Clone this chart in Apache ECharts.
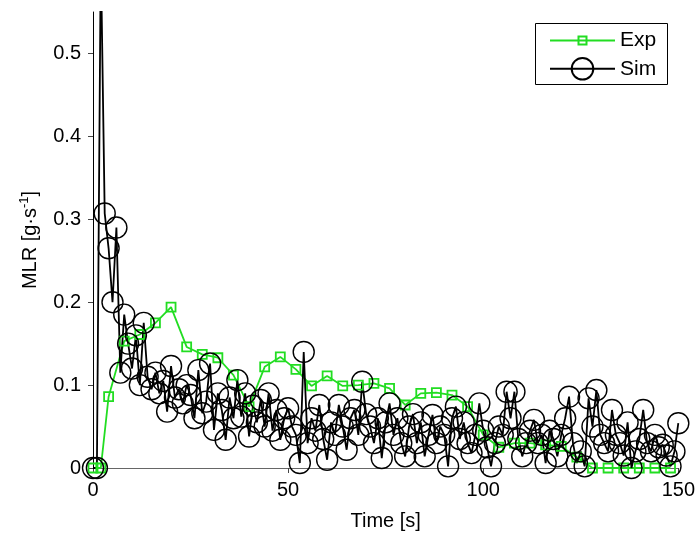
<!DOCTYPE html>
<html>
<head>
<meta charset="utf-8">
<script src="https://cdn.jsdelivr.net/npm/echarts@6/dist/echarts.min.js"></script>
<style>
html,body{margin:0;padding:0;background:#fff;}
#chart{width:698px;height:536px;}
</style>
</head>
<body>
<div id="chart"></div>
<script>
// ---- data ----
var expTime = [0, 2, 4, 8, 12, 16, 20, 24, 28, 32, 36, 40, 44, 48, 52, 56, 60, 64, 68, 72, 76, 80, 84, 88, 92, 96, 100, 104, 108, 112, 116, 120, 124, 128, 132, 136, 140, 144, 148];
var expMLR = [0, 0, 0.086, 0.153, 0.161, 0.175, 0.194, 0.146, 0.137, 0.133, 0.112, 0.074, 0.122, 0.134, 0.119, 0.099, 0.111, 0.099, 0.100, 0.102, 0.096, 0.076, 0.090, 0.091, 0.088, 0.074, 0.040, 0.025, 0.030, 0.030, 0.028, 0.026, 0.013, 0.0, 0.0, 0.0, 0.0, 0.0, 0.0];

var simTime = [0,1,2,3,4,5,6,7,8,9,10,11,12,13,14,15,16,17,18,19,20,21,22,23,24,25,26,27,28,29,30,31,32,33,34,35,36,37,38,39,40,41,42,43,44,45,46,47,48,49,50,51,52,53,54,55,56,57,58,59,60,61,62,63,64,65,66,67,68,69,70,71,72,73,74,75,76,77,78,79,80,81,82,83,84,85,86,87,88,89,90,91,92,93,94,95,96,97,98,99,100,101,102,103,104,105,106,107,108,109,110,111,112,113,114,115,116,117,118,119,120,121,122,123,124,125,126,127,128,129,130,131,132,133,134,135,136,137,138,139,140,141,142,143,144,145,146,147,148,149,150];
var simMLR = [
  0, 0, 0.62, 0.307, 0.265, 0.200, 0.290, 0.115, 0.185, 0.150,
  0.120, 0.160, 0.100, 0.175, 0.110, 0.095, 0.115, 0.090, 0.105, 0.068,
  0.123, 0.085, 0.095, 0.078, 0.100, 0.088, 0.060, 0.118, 0.066, 0.080,
  0.126, 0.046, 0.090, 0.070, 0.034, 0.085, 0.060, 0.106, 0.062, 0.090,
  0.038, 0.075, 0.055, 0.082, 0.050, 0.090, 0.045, 0.070, 0.034, 0.060,
  0.072, 0.050, 0.040, 0.006, 0.140, 0.030, 0.060, 0.045, 0.076, 0.035,
  0.010, 0.055, 0.040, 0.076, 0.050, 0.022, 0.060, 0.070, 0.040, 0.104,
  0.065, 0.050, 0.030, 0.060, 0.012, 0.055, 0.078, 0.040, 0.060, 0.030,
  0.014, 0.050, 0.065, 0.030, 0.055, 0.014, 0.040, 0.064, 0.030, 0.050,
  0.040, 0.002, 0.060, 0.074, 0.035, 0.055, 0.030, 0.018, 0.040, 0.078,
  0.045, 0.025, 0.002, 0.030, 0.050, 0.040, 0.092, 0.060, 0.092, 0.035,
  0.014, 0.030, 0.045, 0.058, 0.030, 0.040, 0.006, 0.045, 0.035, 0.014,
  0.040, 0.060, 0.086, 0.030, 0.006, 0.020, 0.002, 0.084, 0.050, 0.094,
  0.040, 0.030, 0.020, 0.070, 0.040, 0.030, 0.015, 0.055, 0.000, 0.020,
  0.035, 0.070, 0.030, 0.020, 0.040, 0.025, 0.028, 0.015, 0.002, 0.020,
  0.054
];

var xTicks = [0, 50, 100, 150];
var yTicks = [0, 0.1, 0.2, 0.3, 0.4, 0.5];

function pairs(xs, ys) {
  return xs.map(function (x, i) { return [x, ys[i]]; });
}

var FONT = 'Liberation Sans, Arial, sans-serif';
var chart = echarts.init(document.getElementById('chart'), null, {renderer: 'canvas'});

chart.setOption({
  backgroundColor: '#fff',
  animation: false,
  grid: {left: 93, right: 19, top: 12, bottom: 68, containLabel: false},
  xAxis: {
    type: 'value', min: 0, max: 150, interval: 50,
    name: 'Time [s]', nameLocation: 'middle', nameGap: 43,
    nameTextStyle: {fontFamily: FONT, fontSize: 20, color: '#000'},
    axisLine: {show: true, onZero: false, lineStyle: {color: '#666', width: 1}},
    axisTick: {show: true, inside: false, length: 5, lineStyle: {color: '#444'}, customValues: xTicks},
    axisLabel: {fontFamily: FONT, fontSize: 20, color: '#000', margin: 12, customValues: xTicks},
    splitLine: {show: false}
  },
  yAxis: {
    type: 'value', min: 0, max: 0.55, interval: 0.1,
    name: 'MLR [g·s{sup|-1}]', nameLocation: 'middle', nameGap: 50,
    nameTextStyle: {
      fontFamily: FONT, fontSize: 20, color: '#000',
      rich: {sup: {fontFamily: FONT, fontSize: 13, color: '#000', padding: [0, 0, 12, 0]}}
    },
    axisLine: {show: true, onZero: false, lineStyle: {color: '#000', width: 1}},
    axisTick: {show: true, inside: false, length: 5, lineStyle: {color: '#444'}, customValues: yTicks},
    axisLabel: {fontFamily: FONT, fontSize: 20, color: '#000', margin: 12, customValues: yTicks},
    splitLine: {show: false}
  },
  graphic: [{
    type: 'rect', left: 535, top: 23, z: 1,
    shape: {width: 132, height: 61},
    style: {fill: '#fff', stroke: '#000', lineWidth: 1}
  }],
  legend: [{
    data: ['Exp'], left: 549, top: 30, padding: 0, itemWidth: 65, itemHeight: 10,
    textStyle: {fontFamily: FONT, fontSize: 21, color: '#000'}
  }, {
    data: ['Sim'], left: 549, top: 57, padding: 0, itemWidth: 65, itemHeight: 27,
    textStyle: {fontFamily: FONT, fontSize: 21, color: '#000'}
  }],
  series: [{
    name: 'Exp', type: 'line',
    data: pairs(expTime, expMLR),
    symbol: 'rect', symbolSize: 9, showAllSymbol: true,
    lineStyle: {color: '#22dd22', width: 1.8},
    itemStyle: {color: 'rgba(0,0,0,0)', borderColor: '#22dd22', borderWidth: 1.8},
    emphasis: {disabled: true}
  }, {
    name: 'Sim', type: 'line',
    data: pairs(simTime, simMLR),
    symbol: 'circle', symbolSize: 21, showAllSymbol: true,
    lineStyle: {color: '#000', width: 1.8},
    itemStyle: {color: 'rgba(0,0,0,0)', borderColor: '#000', borderWidth: 1.4},
    emphasis: {disabled: true}
  }]
});
</script>
</body>
</html>
